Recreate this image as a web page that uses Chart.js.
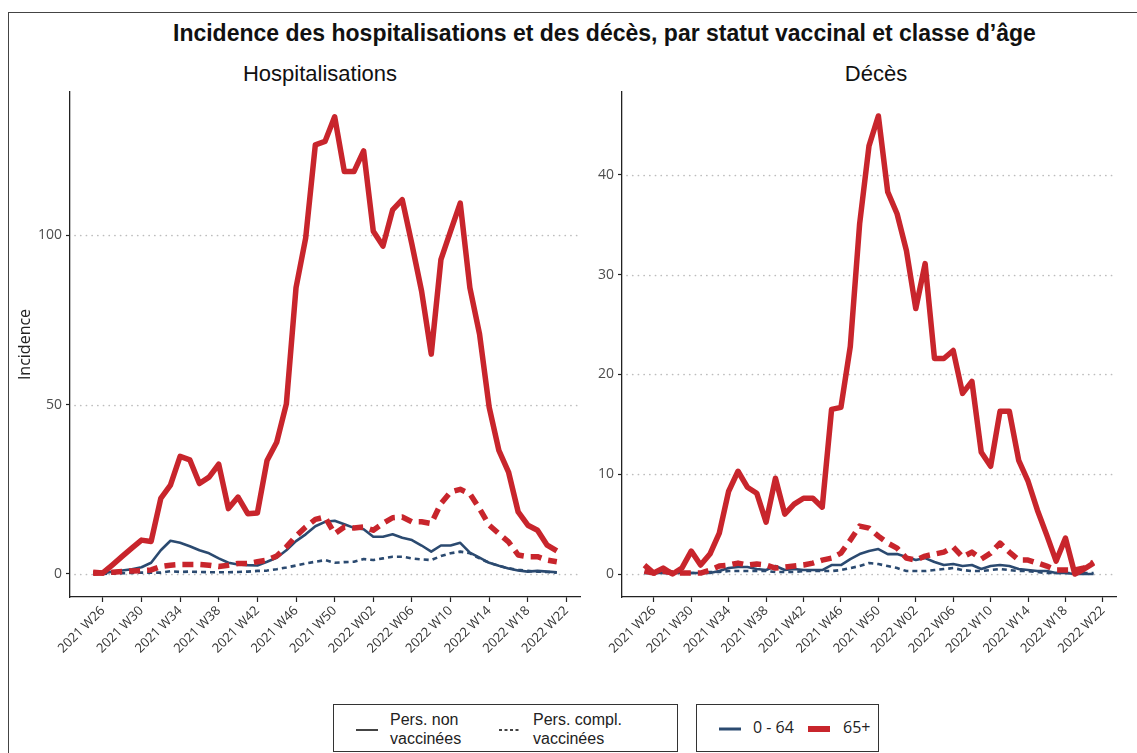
<!DOCTYPE html>
<html lang="fr">
<head>
<meta charset="utf-8">
<title>Incidence des hospitalisations et des décès</title>
<script src="https://cdn.jsdelivr.net/npm/chart.js@4.4.1/dist/chart.umd.min.js"></script>
<style>
  html, body { margin: 0; padding: 0; background: #fff; }
  body { width: 1137px; height: 753px; position: relative; overflow: hidden;
         font-family: "Liberation Sans", Arial, sans-serif; color: #111; }
  #frame { position: absolute; left: 8px; top: 12px; width: 1140px; height: 760px;
           border-left: 1.3px solid #444; border-top: 1.3px solid #444; }
  #title { position: absolute; left: 173px; top: 22px; font-weight: bold; font-size: 23px;
           line-height: 23px; white-space: nowrap; color: #111; }
  .sub { position: absolute; width: 400px; text-align: center; font-size: 22px;
         line-height: 22px; top: 63px; color: #111; }
  canvas { position: absolute; top: 80px; }
  .box { position: absolute; top: 704px; height: 46px; border: 1.3px solid #333; background: #fff; }
  .box svg { position: absolute; }
  .lbl { position: absolute; font-size: 16px; line-height: 19px; color: #222; white-space: nowrap; }
  .lbl.os { font-family: "Open Sans", sans-serif; }
</style>
</head>
<body>
<div id="frame"></div>
<div id="title">Incidence des hospitalisations et des décès, par statut vaccinal et classe d’âge</div>
<div class="sub" style="left:120px">Hospitalisations</div>
<div class="sub" style="left:676px">Décès</div>

<canvas id="hosp" width="600" height="610" style="left:0px"></canvas>
<canvas id="deces" width="552" height="610" style="left:585px"></canvas>

<div class="box" style="left:333px; width:343px">
  <svg style="left:21px; top:22px" width="24" height="6"><line x1="1" y1="3" x2="23" y2="3" stroke="#444" stroke-width="2"/></svg>
  <div class="lbl" style="left:56px; top:5px">Pers. non<br>vaccinées</div>
  <svg style="left:164px; top:22px" width="24" height="6"><line x1="1" y1="3" x2="23" y2="3" stroke="#444" stroke-width="2" stroke-dasharray="3 2.5"/></svg>
  <div class="lbl" style="left:199px; top:5px">Pers. compl.<br>vaccinées</div>
</div>
<div class="box" style="left:696px; width:181px">
  <svg style="left:21px; top:20px" width="24" height="8"><line x1="1" y1="4" x2="23" y2="4" stroke="#2b4a70" stroke-width="3"/></svg>
  <div class="lbl os" style="left:56px; top:13px">0 - 64</div>
  <svg style="left:110px; top:20px" width="24" height="8"><line x1="1" y1="4" x2="23" y2="4" stroke="#c8252c" stroke-width="6"/></svg>
  <div class="lbl os" style="left:146px; top:13px">65+</div>
</div>

<script>
// Weekly incidence, 2021 W25 -> 2022 W21 (49 weeks)
const hospUnvacc65 = [0.5, 0.3, 2.7, 5.2, 7.6, 10, 9.6, 22.3, 26.2, 34.7, 33.7, 26.7, 28.6, 32.4, 19.3, 22.7, 17.8, 18.0, 33.5, 38.9, 50.2, 84.5, 99.2, 126.7, 127.7, 135, 118.8, 118.8, 124.9, 101.2, 96.8, 107.5, 110.5, 97.3, 83.5, 64.9, 92.8, 101.2, 109.5, 84.5, 70.8, 49.2, 36.5, 30.1, 18.3, 14.4, 12.9, 8.5, 6.8];
const hospVacc65 = [0.2, 0.3, 0.5, 0.7, 0.9, 1, 1.2, 2.2, 2.6, 2.8, 2.8, 2.8, 2.6, 2.2, 2.6, 3.1, 3.1, 3.6, 4.1, 5.3, 8, 11.2, 13.9, 16.1, 16.8, 11.9, 13.9, 13.6, 13.9, 12.9, 14.9, 16.6, 16.8, 15.4, 15.4, 14.9, 20.8, 24.2, 25, 23.7, 19.3, 14.4, 11.9, 9.5, 5.6, 5.1, 5.1, 4.1, 3.6];
const hospUnvacc064 = [0, 0.2, 0.7, 1, 1.4, 2, 3.3, 7, 9.8, 9.2, 8.2, 7, 6.1, 4.6, 3.3, 2.8, 2.6, 2.5, 3.6, 4.8, 7, 9.7, 11.7, 14.1, 15.4, 15.7, 14.7, 13.6, 13.2, 11, 11, 11.7, 10.7, 10, 8.4, 6.6, 8.4, 8.4, 9.2, 6.3, 4.8, 3.3, 2.4, 1.6, 1, 0.7, 0.9, 0.7, 0.5];
const hospVacc064 = [0, 0, 0.1, 0.2, 0.3, 0.4, 0.4, 0.4, 0.8, 0.6, 0.7, 0.6, 0.5, 0.5, 0.5, 0.6, 0.7, 0.9, 1, 1.4, 1.9, 2.5, 3.1, 3.6, 4.1, 3.3, 3.5, 3.6, 4.4, 4.1, 4.6, 5.1, 5.1, 4.6, 4.3, 4.1, 5.3, 6.1, 6.6, 6.1, 4.6, 3.3, 2.4, 1.7, 1.2, 0.9, 0.7, 0.6, 0.4];

const decesUnvacc65 = [0.9, 0.1, 0.6, 0, 0.6, 2.3, 0.9, 2, 4.1, 8.3, 10.3, 8.7, 8.1, 5.2, 9.6, 6, 7, 7.6, 7.6, 6.7, 16.5, 16.7, 22.8, 35.1, 42.9, 45.9, 38.3, 36.1, 32.4, 26.6, 31.1, 21.6, 21.6, 22.4, 18.1, 19.3, 12.2, 10.8, 16.3, 16.3, 11.4, 9.3, 6.4, 3.9, 1.3, 3.6, 0, 0.5, 1.1];
const decesVacc65 = [0.3, 0.1, 0.3, 0.1, 0.1, 0.1, 0.1, 0.4, 0.8, 0.9, 1.1, 0.9, 1, 0.9, 0.6, 0.7, 0.8, 0.9, 1.1, 1.4, 1.6, 2.1, 3.4, 4.8, 4.6, 3.8, 3.1, 2.6, 1.6, 1.4, 1.8, 2, 2.2, 2.7, 1.7, 2.2, 1.5, 2.1, 3.1, 2.2, 1.4, 1.4, 1.1, 0.8, 0.4, 0.4, 0.4, 0.6, 1.2];
const decesUnvacc064 = [0.1, 0.1, 0.1, 0.1, 0.1, 0.1, 0.1, 0.1, 0.3, 0.6, 0.7, 0.7, 0.5, 0.4, 0.8, 0.4, 0.5, 0.4, 0.4, 0.4, 0.9, 0.9, 1.5, 2, 2.3, 2.5, 2, 2, 1.7, 1.4, 1.6, 1.2, 0.9, 1, 0.8, 0.9, 0.5, 0.8, 0.9, 0.8, 0.5, 0.4, 0.3, 0.3, 0.1, 0.1, 0, 0, 0];
const decesVacc064 = [0.1, 0.1, 0.1, 0.1, 0.1, 0.1, 0.1, 0.2, 0.2, 0.3, 0.3, 0.3, 0.3, 0.3, 0.2, 0.2, 0.2, 0.3, 0.3, 0.3, 0.3, 0.4, 0.6, 0.8, 1.1, 1, 0.8, 0.6, 0.3, 0.3, 0.3, 0.4, 0.5, 0.6, 0.4, 0.3, 0.3, 0.4, 0.5, 0.4, 0.3, 0.3, 0.2, 0.1, 0.1, 0.1, 0.1, 0.1, 0.1];

// x tick labels, every 4 weeks starting at week index 1 (2021 W26)
const tickLabels = ["2021 W26", "2021 W30", "2021 W34", "2021 W38", "2021 W42", "2021 W46", "2021 W50",
                    "2022 W02", "2022 W06", "2022 W10", "2022 W14", "2022 W18", "2022 W22"];
const hospTicks = [0, 50, 100];
const decesTicks = [0, 10, 20, 30, 40];

const RED = "#c8252c";
const BLUE = "#2b4a70";
const tickPos = tickLabels.map((_, k) => 1 + 4 * k);

function ds(vals, color, width, dash) {
  return {
    data: vals.map((v, i) => ({ x: i, y: v })),
    borderColor: color,
    borderWidth: width,
    borderDash: dash,
    borderJoinStyle: "round",
    pointRadius: 0,
    tension: 0,
    fill: false
  };
}

// dotted horizontal grid like ggplot
const dottedGrid = {
  id: "dottedGrid",
  beforeDatasetsDraw(chart) {
    const { ctx, chartArea } = chart;
    const y = chart.scales.y;
    ctx.save();
    ctx.strokeStyle = "#bdbdbd";
    ctx.lineWidth = 1.7;
    ctx.lineCap = "round";
    ctx.setLineDash([0.1, 5.6]);
    y.ticks.forEach(t => {
      const py = Math.round(y.getPixelForValue(t.value)) + 0.5;
      ctx.beginPath();
      ctx.moveTo(chartArea.left + 5, py);
      ctx.lineTo(chartArea.right, py);
      ctx.stroke();
    });
    ctx.restore();
  }
};

function makePanel(id, series, yMin, yMax, yTicks, yWidth, padRight, withTitle) {
  new Chart(document.getElementById(id), {
    type: "line",
    data: {
      datasets: [
        ds(series[0], RED, 5.5, []),
        ds(series[1], RED, 5.5, [11, 7]),
        ds(series[2], BLUE, 2.6, []),
        ds(series[3], BLUE, 2.6, [5, 4])
      ]
    },
    options: {
      responsive: false,
      animation: false,
      layout: { padding: { top: 12, right: padRight, left: 0, bottom: 0 } },
      plugins: { legend: { display: false }, tooltip: { enabled: false } },
      scales: {
        x: {
          type: "linear",
          min: -2.4,
          max: 50.4,
          afterBuildTicks: s => { s.ticks = tickPos.map(v => ({ value: v })); },
          afterFit: s => { s.height = 93; s.paddingLeft = 0; s.paddingRight = 0; },
          grid: { drawOnChartArea: false, drawTicks: true, tickLength: 5, tickColor: "#222", tickWidth: 1.2 },
          border: { display: true, color: "#222", width: 1.3 },
          ticks: {
            autoSkip: false, maxRotation: 45, minRotation: 45, padding: 1,
            color: "#333", font: { family: "'Open Sans', sans-serif", size: 13 },
            callback: v => tickLabels[Math.round((v - 1) / 4)]
          }
        },
        y: {
          min: yMin,
          max: yMax,
          afterBuildTicks: s => { s.ticks = yTicks.map(v => ({ value: v })); },
          afterFit: s => { s.width = yWidth; s.paddingTop = 0; s.paddingBottom = 0; },
          grid: { drawOnChartArea: false, drawTicks: true, tickLength: 4, tickColor: "#222", tickWidth: 1.2 },
          border: { display: true, color: "#222", width: 1.3 },
          ticks: { padding: 4, color: "#4d4d4d", font: { family: "'Open Sans', sans-serif", size: 14 } },
          title: {
            display: withTitle,
            text: "Incidence",
            color: "#222",
            font: { family: "'Open Sans', sans-serif", size: 16 },
            padding: { top: 16, bottom: 0 }
          }
        }
      }
    },
    plugins: [dottedGrid]
  });
}

makePanel("hosp", [hospUnvacc65, hospVacc65, hospUnvacc064, hospVacc064],
          -6.8, 142.3, hospTicks, 70, 20, true);
makePanel("deces", [decesUnvacc65, decesVacc65, decesUnvacc064, decesVacc064],
          -2.3, 48.3, decesTicks, 37, 21, false);
</script>
</body>
</html>
